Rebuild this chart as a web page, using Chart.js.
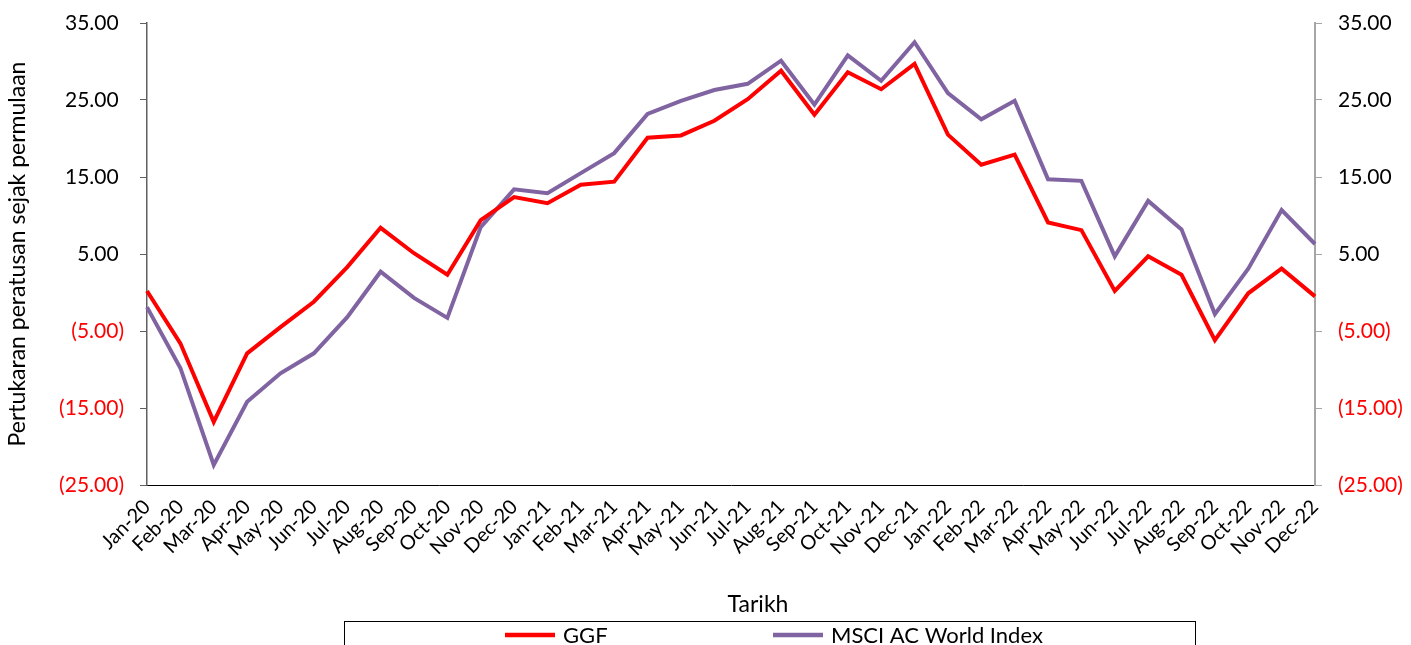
<!DOCTYPE html>
<html>
<head>
<meta charset="utf-8">
<script src="https://cdn.jsdelivr.net/npm/chart.js@4"></script>
<style>
    html, body { margin: 0; padding: 0; background: #fff; }
    #wrap { width: 1411px; height: 645px; position: relative; }
</style>
</head>
<body>
<div id="wrap"><canvas id="myLineChart" width="1411" height="645"></canvas></div>
<script>
// data
const months = ['Jan-20', 'Feb-20', 'Mar-20', 'Apr-20', 'May-20', 'Jun-20', 'Jul-20', 'Aug-20', 'Sep-20', 'Oct-20', 'Nov-20', 'Dec-20',
    'Jan-21', 'Feb-21', 'Mar-21', 'Apr-21', 'May-21', 'Jun-21', 'Jul-21', 'Aug-21', 'Sep-21', 'Oct-21', 'Nov-21', 'Dec-21',
    'Jan-22', 'Feb-22', 'Mar-22', 'Apr-22', 'May-22', 'Jun-22', 'Jul-22', 'Aug-22', 'Sep-22', 'Oct-22', 'Nov-22', 'Dec-22'];

const ggf = [0.2, -6.6, -16.8, -7.9, -4.5, -1.2, 3.3, 8.4, 5.1, 2.3, 9.4, 12.4,
    11.6, 14.0, 14.4, 20.1, 20.4, 22.3, 25.1, 28.8, 23.1, 28.6, 26.4, 29.7,
    20.5, 16.6, 17.9, 9.1, 8.1, 0.2, 4.7, 2.3, -6.2, -0.1, 3.1, -0.5];

const msci = [-1.9, -9.8, -22.4, -14.2, -10.5, -7.9, -3.2, 2.7, -0.7, -3.3, 8.5, 13.4,
    12.9, 15.5, 18.1, 23.2, 24.9, 26.3, 27.1, 30.1, 24.4, 30.8, 27.5, 32.5,
    25.9, 22.5, 24.9, 14.7, 14.5, 4.7, 11.9, 8.2, -2.8, 3.1, 10.7, 6.3];

const yMin = -25;
const yMax = 35;
const yStep = 10;

const FONT = 'Lato, "Open Sans", sans-serif';

function fmtTick(v) {
    if (v < 0) return '(' + Math.abs(v).toFixed(2) + ')';
    return v.toFixed(2) + ' ';
}

function tickColor(c) {
    return c.tick && c.tick.value < 0 ? '#FF0000' : '#000000';
}

// legend box + x title drawn by hand (excel style)
const excelLegend = {
    id: 'excelLegend',
    afterDraw(chart) {
        const ctx = chart.ctx;
        ctx.save();
        ctx.font = '23px ' + FONT;
        ctx.fillStyle = '#000';
        ctx.textAlign = 'center';
        ctx.textBaseline = 'middle';
        ctx.fillText('Tarikh', 758, 605);

        ctx.strokeStyle = '#000';
        ctx.lineWidth = 1;
        ctx.strokeRect(344.5, 621.5, 851, 40);

        const items = [
            { x: 505, ds: chart.data.datasets[0] },
            { x: 773, ds: chart.data.datasets[1] }
        ];
        ctx.font = '22px ' + FONT;
        ctx.textAlign = 'left';
        items.forEach(function (it) {
            ctx.strokeStyle = it.ds.borderColor;
            ctx.lineWidth = 4.5;
            ctx.beginPath();
            ctx.moveTo(it.x, 635);
            ctx.lineTo(it.x + 50, 635);
            ctx.stroke();
            ctx.fillStyle = '#000';
            ctx.fillText(it.ds.label, it.x + 58, 636);
        });
        ctx.restore();
    }
};

function createChart() {
    var data = {
        labels: months,
        datasets: [
            {
                label: 'GGF',
                data: ggf,
                borderColor: '#FF0000',
                borderWidth: 4,
                pointRadius: 0,
                tension: 0,
                fill: false,
                yAxisID: 'y'
            },
            {
                label: 'MSCI AC World Index',
                data: msci,
                borderColor: '#8064A2',
                borderWidth: 4,
                pointRadius: 0,
                tension: 0,
                fill: false,
                yAxisID: 'y'
            }
        ]
    };

    var options = {
        responsive: false,
        animation: false,
        layout: { padding: { top: 0, bottom: 0, left: 0, right: 0 } },
        plugins: {
            legend: { display: false },
            tooltip: { enabled: false }
        },
        scales: {
            x: {
                offset: false,
                grid: { display: false },
                border: { display: true, color: '#000', width: 1 },
                ticks: {
                    autoSkip: false,
                    maxRotation: 45,
                    minRotation: 45,
                    padding: 2,
                    color: '#000',
                    font: { family: FONT, size: 20 }
                },
                afterFit: function (s) { s.height = 160; }
            },
            y: {
                position: 'left',
                min: yMin,
                max: yMax,
                grid: { drawOnChartArea: false, drawTicks: true, tickLength: 7, color: '#606060' },
                border: { display: true, color: '#606060', width: 1.5 },
                ticks: {
                    stepSize: yStep,
                    padding: 16,
                    color: tickColor,
                    font: { family: FONT, size: 21 },
                    callback: fmtTick
                },
                title: {
                    display: true,
                    text: 'Pertukaran peratusan sejak permulaan',
                    color: '#000',
                    font: { family: FONT, size: 23 },
                    padding: { top: 4, bottom: 0 }
                },
                afterFit: function (s) { s.width = 147; s.paddingTop = 23; }
            },
            y2: {
                position: 'right',
                min: yMin,
                max: yMax,
                grid: { drawOnChartArea: false, drawTicks: true, tickLength: 7, color: '#A6A6A6' },
                border: { display: true, color: '#A6A6A6', width: 2 },
                ticks: {
                    stepSize: yStep,
                    padding: 16,
                    color: tickColor,
                    font: { family: FONT, size: 21 },
                    callback: fmtTick
                },
                afterFit: function (s) { s.width = 96; s.paddingTop = 23; }
            }
        }
    };

    var ctx = document.getElementById('myLineChart').getContext('2d');
    var myLineChart = new Chart(ctx, {
        type: 'line',
        data: data,
        options: options,
        plugins: [excelLegend]
    });
}

document.addEventListener("DOMContentLoaded", function () {
    createChart();
});
</script>
</body>
</html>
